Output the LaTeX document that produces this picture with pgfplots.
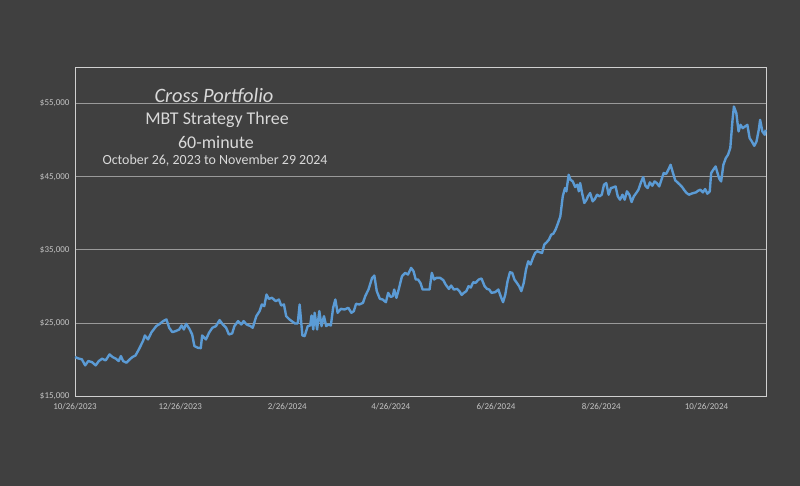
\documentclass[border=0pt]{standalone}
\usepackage{fontspec}
\setmainfont{Carlito}
\usepackage{pgfplots}
\pgfplotsset{compat=1.18}

\definecolor{bg}{HTML}{404040}
\definecolor{lineblue}{HTML}{5B9BD5}
\definecolor{txt}{HTML}{D9D9D9}
\definecolor{ticktxt}{HTML}{C4C4C4}
\definecolor{gridc}{HTML}{9A9A9A}
\definecolor{framec}{HTML}{D0D0D0}

\begin{document}
\begin{tikzpicture}
\fill[bg] (0,0) rectangle (800bp,486bp);
\begin{axis}[
    at={(75bp,90bp)}, anchor=south west,
    scale only axis,
    width=691bp, height=329bp,
    xmin=0, xmax=400.5,
    ymin=15000, ymax=60000,
    scaled y ticks=false,
    xtick={0,61,123,183,244,305,366},
    xticklabels={10/26/2023,12/26/2023,2/26/2024,4/26/2024,6/26/2024,8/26/2024,10/26/2024},
    ytick={15000,25000,35000,45000,55000},
    yticklabels={{\$15,000},{\$25,000},{\$35,000},{\$45,000},{\$55,000}},
    major tick length=0pt,
    tick label style={font=\fontsize{9}{10}\selectfont, text=ticktxt},
    xticklabel style={yshift=-4bp},
    yticklabel style={xshift=-2bp},
    ymajorgrids,
    grid style={gridc, line width=0.7pt},
    axis line style={framec, line width=1pt},
    clip=false,
]
\addplot[lineblue, line width=2.4pt, line join=round] coordinates {
(0,20330) (1.9,20140) (4.0,20010) (5.9,19190) (7.7,19780) (9.8,19640) (12.0,19190)
(13.8,19780) (15.7,20100) (17.8,19870) (20.0,20690) (21.8,20330) (23.7,20100) (25.3,19780)
(26.6,20460) (27.9,19780) (29.8,19550) (31.7,20010) (33.3,20330) (35.1,20550) (37.0,21370)
(39.4,22510) (40.5,23280) (42.3,22740) (44.4,23740) (47.1,24560) (49.2,24880) (51.1,25240)
(53.0,25470) (54.6,24330) (56.4,23740) (58.3,23870) (60.4,24100) (61.8,24650) (63.1,24100)
(64.4,24880) (66.3,24190) (67.9,23420) (69.2,21830) (71.1,21600) (72.9,21550) (73.7,23280)
(75.9,22740) (77.7,23650) (79.6,24330) (81.7,24560) (83.8,25380) (85.7,24780) (87.6,24330)
(89.2,23420) (91.1,23560) (92.4,24560) (94.5,25240) (96.4,24780) (97.7,25240) (99.5,24780)
(101.7,24560) (103.0,24330) (105.1,25920) (107.0,26610) (108.3,27520) (109.7,27290)
(111.0,28880) (112.3,28290) (114.2,28430) (116.3,27970) (118.2,28200) (119.5,27380)
(121.1,27520) (122.4,25920) (124.3,25470) (125.6,25240) (127.5,24920) (129.1,24920)
(130.2,27520) (131.8,23280) (133.1,23190) (134.9,24560) (136.3,24650) (137.1,26010)
(138.1,24100) (138.9,26380) (140.3,24100) (141.6,26610) (142.9,24560) (144.3,25920)
(145.6,24560) (146.9,24780) (148.3,24650) (149.6,27060) (150.9,28200) (152.2,26380)
(154.1,26920) (156.2,26830) (158.4,27060) (160.2,26380) (161.6,26610) (162.9,27610)
(164.8,27520) (166.9,27740) (168.2,28650) (170.1,29560) (172.2,31160) (173.5,31470)
(174.9,29340) (176.7,28290) (178.3,28200) (180.2,27830) (181.5,29110) (182.9,28560)
(184.2,28650) (185.0,29560) (186.3,28430) (187.6,29560) (189.5,31380) (191.4,31840)
(193.0,31610) (194.8,32520) (196.2,32070) (197.5,30930) (198.8,30930) (200.2,30470)
(201.5,29560) (203.4,29560) (205.5,29560) (206.8,31840) (208.1,30930) (209.5,31160)
(211.6,31160) (213.5,30840) (214.8,30250) (216.7,29650) (218.0,30110) (219.6,29560)
(221.5,29650) (222.8,29340) (224.1,28830) (225.4,29110) (226.8,29340) (228.1,30020)
(229.4,29840) (230.8,30560) (232.1,30470) (234.0,30930) (235.6,31070) (237.4,30020)
(238.8,29650) (240.1,29560) (241.4,29110) (243.5,29200) (245.4,29560) (246.7,28650)
(248.1,27830) (249.4,28880) (250.7,30700) (252.1,31930) (253.4,31840) (254.7,30930)
(256.1,30470) (257.4,30020) (258.7,29340) (260.1,30470) (261.4,32290) (262.7,33430)
(264.0,32980) (265.4,33890) (266.7,34570) (268.0,34800) (269.4,34660) (270.7,34570)
(272.0,35710) (273.4,36030) (274.7,36390) (276.0,37070) (277.3,37210) (278.7,37850)
(280.0,38670) (281.3,39580) (282.7,42310) (284.0,43440) (284.8,42990) (286.1,45260)
(287.2,44580) (288.5,44350) (289.9,43580) (291.2,43900) (292.0,42990) (292.8,44130)
(293.9,42760) (295.2,41400) (296.5,41850) (297.3,42310) (298.6,42760) (300.0,41620)
(301.3,41940) (302.6,42530) (304.0,42310) (305.3,42530) (306.6,43900) (307.9,44130)
(309.3,42530) (310.6,43440) (311.9,43530) (313.3,43670) (314.6,42310) (315.9,41850)
(317.3,42530) (318.6,41850) (319.9,42990) (321.3,42530) (322.6,41530) (323.9,42310)
(325.3,42760) (326.6,43220) (327.9,44130) (329.3,44950) (330.6,43760) (331.9,43440)
(333.2,44220) (334.6,43760) (335.9,44350) (337.2,44130) (338.6,43670) (339.9,44580)
(341.2,45490) (342.6,45360) (343.9,45950) (345.2,46630) (346.6,45490) (347.9,44490)
(349.2,44220) (350.6,43900) (351.9,43580) (353.2,43130) (354.5,42760) (355.9,42530)
(357.2,42670) (358.5,42760) (359.9,42850) (361.2,43080) (362.5,43220) (363.9,42850)
(365.2,43310) (366.5,42670) (367.9,42990) (368.7,45490) (369.7,45860) (371.3,46400)
(372.4,45490) (373.4,44720) (374.5,44350) (375.8,46630) (377.2,47540) (378.5,48000)
(379.8,48910) (381.1,52770) (381.9,54590) (383.3,53680) (384.6,51180) (385.7,52090)
(387.0,51640) (388.3,51860) (389.7,52090) (391.0,50270) (392.3,49810) (393.7,49220)
(395.0,49810) (396.3,51410) (397.1,52770) (398.4,51180) (399.8,50730) (400.3,51410)
};
\end{axis}
\node[text=txt, font=\fontsize{20.5}{24}\selectfont\itshape] at (214bp,391bp) {Cross Portfolio};
\node[text=txt, font=\fontsize{18}{21}\selectfont] at (217bp,366bp) {MBT Strategy Three};
\node[text=txt, font=\fontsize{18}{21}\selectfont] at (216bp,344bp) {60-minute};
\node[text=txt, font=\fontsize{14}{16}\selectfont] at (215bp,325bp) {October 26, 2023 to November 29 2024};
\end{tikzpicture}
\end{document}
